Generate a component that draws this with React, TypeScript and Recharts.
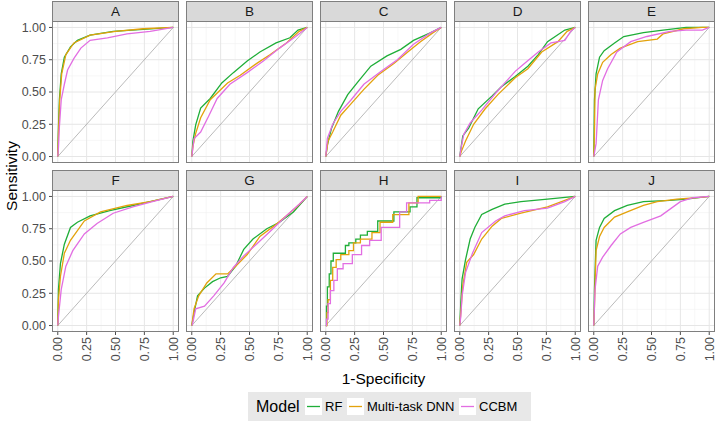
import { LineChart, Line, XAxis, YAxis, CartesianGrid } from "recharts";

type Pt = [number, number];

const panelNames = ["A", "B", "C", "D", "E", "F", "G", "H", "I", "J"];
const modelNames = ["RF", "Multi-task DNN", "CCBM"];
const modelColors = ["#1fae38", "#e3a20c", "#e26ee2"];
const majorTicks = [0, 0.25, 0.5, 0.75, 1];
const minorTicks = [0.125, 0.375, 0.625, 0.875];
const diagonal: Pt[] = [[0, 0], [1, 1]];

// ROC points: [1-specificity, sensitivity]
const rfA: Pt[] = [[0, 0], [0.006, 0.23], [0.014, 0.44], [0.03, 0.64], [0.057, 0.77], [0.11, 0.85], [0.17, 0.9], [0.28, 0.94], [0.48, 0.97], [0.74, 0.985], [1, 1]];
const dnnA: Pt[] = [[0, 0], [0.006, 0.18], [0.017, 0.44], [0.034, 0.64], [0.07, 0.79], [0.14, 0.88], [0.28, 0.94], [0.5, 0.97], [0.74, 0.99], [1, 1]];
const ccbmA: Pt[] = [[0, 0], [0.006, 0.07], [0.014, 0.23], [0.03, 0.44], [0.057, 0.56], [0.085, 0.67], [0.14, 0.76], [0.2, 0.84], [0.28, 0.9], [0.43, 0.92], [0.6, 0.95], [0.8, 0.97], [1, 1]];

const rfB: Pt[] = [[0, 0], [0.01, 0.12], [0.034, 0.245], [0.077, 0.375], [0.16, 0.45], [0.26, 0.57], [0.36, 0.65], [0.48, 0.74], [0.59, 0.81], [0.73, 0.88], [0.85, 0.92], [0.92, 0.98], [1, 1]];
const dnnB: Pt[] = [[0, 0], [0.01, 0.08], [0.034, 0.18], [0.077, 0.3], [0.16, 0.44], [0.31, 0.57], [0.42, 0.63], [0.56, 0.72], [0.68, 0.79], [0.82, 0.88], [0.93, 0.97], [1, 1]];
const ccbmB: Pt[] = [[0, 0], [0.02, 0.14], [0.077, 0.19], [0.15, 0.32], [0.22, 0.45], [0.33, 0.56], [0.48, 0.65], [0.62, 0.74], [0.76, 0.84], [0.9, 0.93], [1, 1]];

const rfC: Pt[] = [[0, 0], [0.014, 0.09], [0.05, 0.22], [0.11, 0.35], [0.19, 0.48], [0.28, 0.58], [0.39, 0.7], [0.53, 0.78], [0.65, 0.83], [0.76, 0.9], [0.91, 0.96], [1, 1]];
const dnnC: Pt[] = [[0, 0], [0.02, 0.12], [0.06, 0.19], [0.13, 0.32], [0.22, 0.41], [0.33, 0.52], [0.45, 0.63], [0.59, 0.72], [0.71, 0.81], [0.82, 0.89], [0.93, 0.96], [1, 1]];
const ccbmC: Pt[] = [[0, 0], [0.014, 0.14], [0.06, 0.25], [0.13, 0.35], [0.22, 0.44], [0.33, 0.56], [0.48, 0.66], [0.62, 0.75], [0.76, 0.87], [0.91, 0.96], [1, 1]];

const rfD: Pt[] = [[0, 0], [0.01, 0.06], [0.026, 0.16], [0.077, 0.22], [0.16, 0.37], [0.28, 0.47], [0.36, 0.54], [0.48, 0.62], [0.59, 0.7], [0.68, 0.79], [0.76, 0.89], [0.91, 0.98], [1, 1]];
const dnnD: Pt[] = [[0, 0], [0.014, 0.04], [0.05, 0.12], [0.12, 0.25], [0.22, 0.37], [0.33, 0.48], [0.48, 0.61], [0.59, 0.68], [0.71, 0.81], [0.85, 0.89], [0.93, 0.97], [1, 1]];
const ccbmD: Pt[] = [[0, 0], [0.01, 0.06], [0.034, 0.17], [0.09, 0.26], [0.19, 0.36], [0.31, 0.49], [0.48, 0.66], [0.56, 0.72], [0.68, 0.81], [0.79, 0.88], [0.91, 0.9], [0.96, 0.97], [1, 1]];

const rfE: Pt[] = [[0, 0], [0.006, 0.44], [0.02, 0.64], [0.05, 0.77], [0.09, 0.82], [0.18, 0.88], [0.26, 0.93], [0.43, 0.96], [0.6, 0.98], [0.8, 1], [1, 1]];
const dnnE: Pt[] = [[0, 0], [0.006, 0.18], [0.011, 0.52], [0.034, 0.64], [0.077, 0.73], [0.15, 0.79], [0.23, 0.84], [0.38, 0.89], [0.55, 0.91], [0.6, 0.95], [0.78, 0.99], [0.94, 1], [1, 1]];
const ccbmE: Pt[] = [[0, 0], [0.02, 0.1], [0.04, 0.44], [0.077, 0.59], [0.12, 0.68], [0.2, 0.81], [0.32, 0.89], [0.46, 0.93], [0.66, 0.97], [0.8, 0.98], [0.94, 0.98], [1, 1]];

const rfF: Pt[] = [[0, 0], [0.006, 0.28], [0.023, 0.48], [0.057, 0.63], [0.11, 0.76], [0.17, 0.8], [0.28, 0.85], [0.45, 0.89], [0.65, 0.93], [0.8, 0.96], [1, 1]];
const dnnF: Pt[] = [[0, 0], [0.006, 0.2], [0.023, 0.38], [0.057, 0.56], [0.11, 0.66], [0.23, 0.81], [0.37, 0.88], [0.6, 0.93], [0.8, 0.96], [1, 1]];
const ccbmF: Pt[] = [[0, 0], [0.006, 0.07], [0.03, 0.28], [0.07, 0.46], [0.13, 0.58], [0.23, 0.71], [0.34, 0.79], [0.48, 0.87], [0.65, 0.92], [0.82, 0.96], [1, 1]];

const rfG: Pt[] = [[0, 0], [0.02, 0.1], [0.05, 0.23], [0.11, 0.29], [0.18, 0.34], [0.25, 0.37], [0.31, 0.38], [0.38, 0.46], [0.45, 0.59], [0.53, 0.67], [0.65, 0.75], [0.76, 0.8], [0.88, 0.88], [1, 1]];
const dnnG: Pt[] = [[0, 0], [0.02, 0.13], [0.06, 0.23], [0.13, 0.33], [0.21, 0.4], [0.31, 0.4], [0.38, 0.46], [0.48, 0.55], [0.59, 0.69], [0.71, 0.77], [0.82, 0.85], [0.91, 0.92], [1, 1]];
const ccbmG: Pt[] = [[0, 0], [0.006, 0.01], [0.034, 0.13], [0.11, 0.15], [0.19, 0.23], [0.28, 0.33], [0.36, 0.45], [0.45, 0.54], [0.56, 0.63], [0.68, 0.73], [0.82, 0.85], [0.93, 0.94], [1, 1]];

// panel H has few cases, drawn as stairs
const rfH: Pt[] = [[0, 0], [0.006, 0.15], [0.014, 0.3], [0.03, 0.4], [0.045, 0.5], [0.065, 0.56], [0.17, 0.62], [0.2, 0.64], [0.26, 0.67], [0.3, 0.7], [0.36, 0.73], [0.45, 0.81], [0.59, 0.88], [0.73, 0.92], [0.79, 0.99], [1, 1]];
const dnnH: Pt[] = [[0, 0], [0.01, 0.1], [0.02, 0.2], [0.04, 0.35], [0.06, 0.45], [0.09, 0.51], [0.13, 0.55], [0.2, 0.58], [0.24, 0.64], [0.3, 0.67], [0.4, 0.72], [0.47, 0.8], [0.58, 0.86], [0.72, 0.95], [0.8, 1], [1, 1]];
const ccbmH: Pt[] = [[0, 0], [0.006, 0.05], [0.02, 0.17], [0.04, 0.27], [0.07, 0.35], [0.1, 0.44], [0.15, 0.48], [0.23, 0.55], [0.31, 0.62], [0.38, 0.66], [0.48, 0.76], [0.64, 0.88], [0.7, 0.95], [0.9, 0.97], [1, 1]];

const rfI: Pt[] = [[0, 0], [0.009, 0.18], [0.02, 0.36], [0.05, 0.51], [0.09, 0.67], [0.13, 0.76], [0.19, 0.86], [0.28, 0.9], [0.39, 0.94], [0.53, 0.96], [0.76, 0.98], [1, 1]];
const dnnI: Pt[] = [[0, 0], [0.009, 0.1], [0.026, 0.31], [0.06, 0.49], [0.12, 0.55], [0.19, 0.67], [0.28, 0.77], [0.36, 0.83], [0.53, 0.87], [0.76, 0.92], [0.91, 0.97], [1, 1]];
const ccbmI: Pt[] = [[0, 0], [0.009, 0.07], [0.02, 0.23], [0.05, 0.41], [0.11, 0.56], [0.19, 0.72], [0.31, 0.81], [0.39, 0.85], [0.56, 0.89], [0.76, 0.91], [0.91, 0.96], [1, 1]];

const rfJ: Pt[] = [[0, 0], [0.006, 0.28], [0.02, 0.66], [0.05, 0.76], [0.09, 0.83], [0.18, 0.89], [0.29, 0.93], [0.43, 0.96], [0.66, 0.97], [0.8, 0.98], [1, 1]];
const dnnJ: Pt[] = [[0, 0], [0.006, 0.15], [0.02, 0.58], [0.05, 0.69], [0.09, 0.76], [0.18, 0.84], [0.29, 0.88], [0.43, 0.93], [0.55, 0.96], [0.72, 0.98], [0.95, 0.995], [1, 1]];
const ccbmJ: Pt[] = [[0, 0], [0.011, 0.28], [0.034, 0.46], [0.077, 0.53], [0.15, 0.62], [0.23, 0.71], [0.32, 0.76], [0.43, 0.8], [0.58, 0.85], [0.75, 0.96], [0.86, 0.99], [1, 1]];

const curves: Record<string, Pt[][]> = {
	A: [rfA, dnnA, ccbmA],
	B: [rfB, dnnB, ccbmB],
	C: [rfC, dnnC, ccbmC],
	D: [rfD, dnnD, ccbmD],
	E: [rfE, dnnE, ccbmE],
	F: [rfF, dnnF, ccbmF],
	G: [rfG, dnnG, ccbmG],
	H: [rfH, dnnH, ccbmH],
	I: [rfI, dnnI, ccbmI],
	J: [rfJ, dnnJ, ccbmJ],
};

// layout
const colX = [52, 186, 320, 454, 588];
const rowY = [21, 190];
const PW = 127;
const PH = 142;
const STRIP_H = 20;
const Y_AXIS_W = 52;
const X_AXIS_H = 40;
const RIGHT_PAD = 8; // room for the last rotated tick label
const BORDER = "#7f7f7f";
const TEXT = "#4d4d4d";
const FONT = "'Liberation Sans', Arial, sans-serif";

const toXY = (pts: Pt[]) => pts.map(([x, y]) => ({ x, y }));

const RotTick = (props: any) => {
	const { x, y, payload } = props;
	return (
		<text
			x={x}
			y={y}
			transform={`rotate(-90 ${x} ${y})`}
			textAnchor="end"
			dy="0.36em"
			fill={TEXT}
			fontSize={12.5}
		>
			{Number(payload.value).toFixed(2)}
		</text>
	);
};

const Panel = ({ name, idx }: { name: string; idx: number }) => {
	const col = idx % 5;
	const row = Math.floor(idx / 5);
	const left = colX[col];
	const top = rowY[row];
	const showY = col === 0;
	const showX = row === 1;
	const yw = showY ? Y_AXIS_W : 0;
	const xh = showX ? X_AXIS_H : 0;
	const lineType = name === "H" ? "stepAfter" : "linear";

	return (
		<>
			<div
				style={{
					position: "absolute",
					left,
					top: top - STRIP_H,
					width: PW,
					height: STRIP_H + 1,
					boxSizing: "border-box",
					border: `1px solid ${BORDER}`,
					background: "#d9d9d9",
					color: "#1a1a1a",
					fontSize: 13.5,
					lineHeight: `${STRIP_H - 1}px`,
					textAlign: "center",
				}}
			>
				{name}
			</div>
			<div style={{ position: "absolute", left: left - yw, top }}>
				<LineChart
					width={PW + yw + RIGHT_PAD}
					height={PH + xh}
					margin={{ top: 0, right: RIGHT_PAD, bottom: 0, left: 0 }}
				>
					<CartesianGrid
						verticalValues={minorTicks}
						horizontalValues={minorTicks}
						stroke="#f2f2f2"
						strokeWidth={0.6}
						fill="#fff"
					/>
					<CartesianGrid
						verticalValues={majorTicks}
						horizontalValues={majorTicks}
						stroke="#e6e6e6"
						strokeWidth={1}
					/>
					<XAxis
						type="number"
						dataKey="x"
						domain={[-0.05, 1.05]}
						ticks={majorTicks}
						allowDataOverflow
						hide={!showX}
						height={xh}
						axisLine={false}
						tickSize={3}
						tickMargin={2}
						tickLine={{ stroke: TEXT }}
						tick={<RotTick />}
						interval={0}
					/>
					<YAxis
						type="number"
						dataKey="y"
						domain={[-0.05, 1.05]}
						ticks={majorTicks}
						allowDataOverflow
						hide={!showY}
						width={yw}
						axisLine={false}
						tickSize={3}
						tickMargin={3}
						tickLine={{ stroke: TEXT }}
						tick={{ fill: TEXT, fontSize: 12.5 }}
						tickFormatter={(v: number) => v.toFixed(2)}
						interval={0}
					/>
					<Line
						data={toXY(diagonal)}
						dataKey="y"
						stroke="#a8a8a8"
						strokeWidth={0.8}
						dot={false}
						isAnimationActive={false}
					/>
					{curves[name].map((pts, i) => (
						<Line
							key={modelNames[i]}
							data={toXY(pts)}
							dataKey="y"
							type={lineType}
							stroke={modelColors[i]}
							strokeWidth={1.3}
							dot={false}
							isAnimationActive={false}
						/>
					))}
				</LineChart>
			</div>
			<div
				style={{
					position: "absolute",
					left,
					top,
					width: PW,
					height: PH,
					boxSizing: "border-box",
					border: `1px solid ${BORDER}`,
					pointerEvents: "none",
				}}
			/>
		</>
	);
};

const legendItems = [
	{ key: 305, text: 325 },
	{ key: 347, text: 367 },
	{ key: 459, text: 479 },
];

const App = () => {
	return (
		<div
			style={{
				position: "absolute",
				left: 0,
				top: 0,
				width: 720,
				height: 425,
				background: "#fff",
				fontFamily: FONT,
				overflow: "hidden",
			}}
		>
			{panelNames.map((n, i) => (
				<Panel key={n} name={n} idx={i} />
			))}
			<svg
				width={720}
				height={425}
				style={{ position: "absolute", left: 0, top: 0, pointerEvents: "none" }}
			>
				<text
					x={0}
					y={0}
					transform="translate(17 176) rotate(-90)"
					textAnchor="middle"
					fontSize={15.5}
					fill="#000"
				>
					Sensitivity
				</text>
				<text x={383.5} y={384} textAnchor="middle" fontSize={15.5} fill="#000">
					1-Specificity
				</text>
				<rect x={248} y={392} width={283} height={29} fill="#e8e8e8" />
				<text x={256} y={412} fontSize={16} fill="#000">
					Model
				</text>
				{legendItems.map((it, i) => (
					<g key={modelNames[i]}>
						<rect x={it.key} y={398} width={17} height={17} fill="#fff" />
						<line
							x1={it.key + 2}
							x2={it.key + 15}
							y1={406.5}
							y2={406.5}
							stroke={modelColors[i]}
							strokeWidth={1.3}
						/>
						<text x={it.text} y={411} fontSize={13} fill="#000">
							{modelNames[i]}
						</text>
					</g>
				))}
			</svg>
		</div>
	);
};

export default App;
